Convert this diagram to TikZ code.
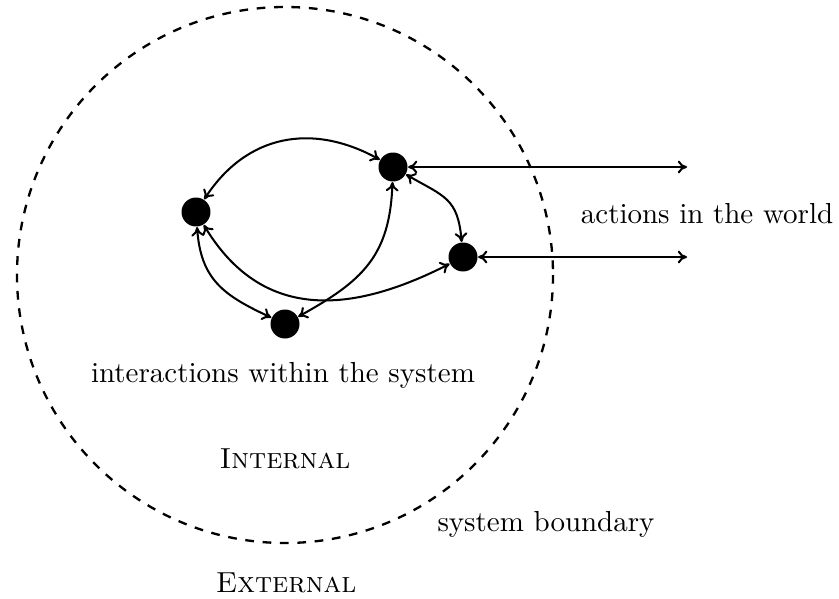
\documentclass[tikz,border=0pt]{standalone}
\usetikzlibrary{arrows.meta}
\begin{document}
\begin{tikzpicture}[x=0.345pt,y=-0.345pt,
  dot/.style={circle,fill=black,inner sep=0pt,minimum size=10pt},
  tip/.tip={To[length=3.2pt,width=4.4pt]},
  link/.style={tip-tip,line width=0.7pt},
  lbl/.style={anchor=base,inner sep=0pt}]
\useasboundingbox (0,0) rectangle (839,598);
\draw[dashed,line width=0.8pt] (285,275) circle[radius=268];
\node[dot] (A) at (196,212) {};
\node[dot] (B) at (393,167) {};
\node[dot] (C) at (463,257) {};
\node[dot] (D) at (285,324) {};
\coordinate (B1) at (687,167);
\coordinate (C1) at (687,257);
\draw[link] (A) to[out=57,in=151,looseness=1.1] (B);
\draw[link] (A) to[out=-86,in=155,looseness=1.15] (D);
\draw[link] (A) to[out=-59,in=207,looseness=1.15] (C);
\draw[link] (B) to[out=-92,in=29,looseness=1.15] (D);
\draw[link] (B) to[out=-30,in=95,looseness=1.3] (C);
\draw[link] (B) -- (B1);
\draw[link] (C) -- (C1);
\node[lbl] (t1) at (707,223) {actions in the world};
\node[lbl] (t2) at (283,382) {interactions within the system};
\node[lbl] (t3) at (285,468) {\textsc{Internal}};
\node[lbl] (t4) at (546,531) {system boundary};
\node[lbl] (t5) at (286,592) {\textsc{External}};
\end{tikzpicture}
\end{document}
